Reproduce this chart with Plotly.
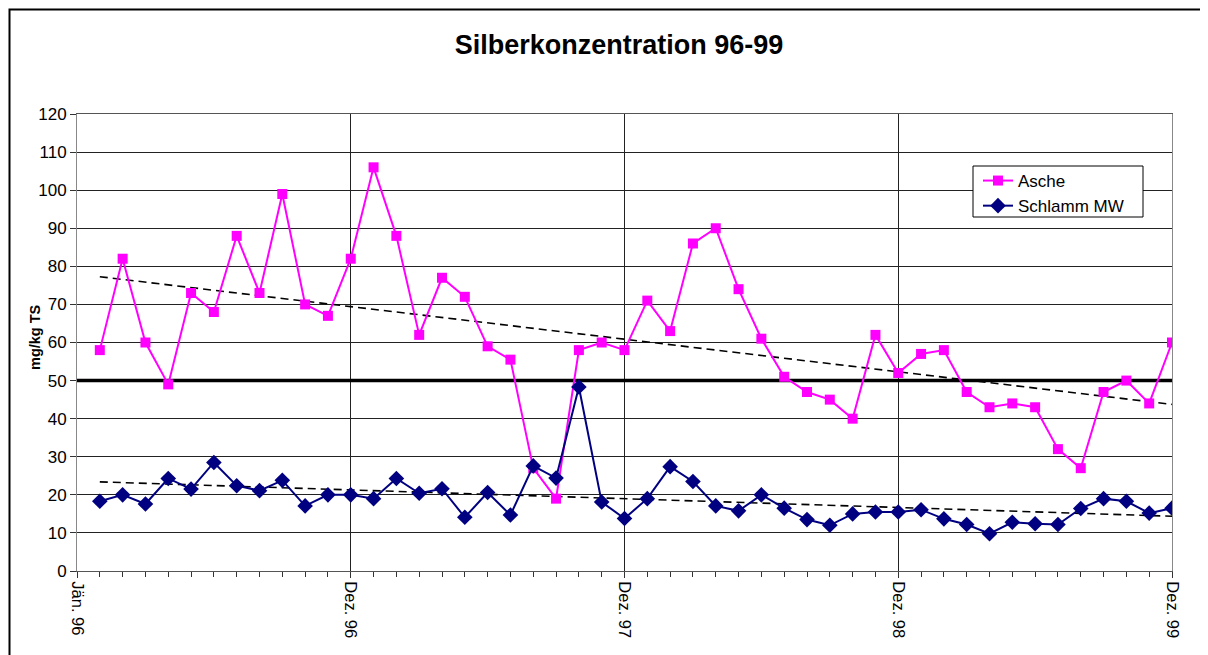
import numpy as np
import plotly.graph_objects as go

# month positions (1 = Jän. 96 ... 48 = Dez. 99)
months = list(range(1, 49))
asche = [58, 82, 60, 49, 73, 68, 88, 73, 99, 70, 67, 82,
         106, 88, 62, 77, 72, 59, 55.5, 27, 19, 58, 60, 58,
         71, 63, 86, 90, 74, 61, 51, 47, 45, 40, 62, 52,
         57, 58, 47, 43, 44, 43, 32, 27, 47, 50, 44, 60]
schlamm = [18.3, 20, 17.6, 24.3, 21.5, 28.5, 22.4, 21.1, 23.8, 17.1, 20, 20,
           19.0, 24.3, 20.4, 21.6, 14.1, 20.6, 14.7, 27.6, 24.4, 48.3, 18.1, 13.8,
           19.0, 27.4, 23.5, 17.1, 15.8, 20, 16.5, 13.5, 12.0, 15.0, 15.5, 15.5,
           16.1, 13.7, 12.2, 9.8, 12.8, 12.4, 12.2, 16.4, 19.0, 18.3, 15.2, 16.5]
tick_pos = [0, 12, 24, 36, 48]
tick_text = ["Jän. 96", "Dez. 96", "Dez. 97", "Dez. 98", "Dez. 99"]
limit_value = 50

FONT = "Liberation Sans, Arial, sans-serif"
PW, PH = 1095, 457  # plot area size in px


def px_x(page_x):
    return (page_x - 77) / PW


def px_y(page_y):
    return (571 - page_y) / PH


x = np.array(months, dtype=float)
trend_a = np.polyval(np.polyfit(x, asche, 1), x)
trend_s = np.polyval(np.polyfit(x, schlamm, 1), x)

fig = go.Figure()
fig.add_trace(go.Scatter(x=[0, 48], y=[limit_value, limit_value], mode="lines",
                         line=dict(color="black", width=3.5), showlegend=False,
                         hoverinfo="skip"))
fig.add_trace(go.Scatter(x=months, y=trend_a, mode="lines",
                         line=dict(color="black", width=1.6, dash="8px,5px"),
                         showlegend=False, hoverinfo="skip"))
fig.add_trace(go.Scatter(x=months, y=trend_s, mode="lines",
                         line=dict(color="black", width=1.6, dash="8px,5px"),
                         showlegend=False, hoverinfo="skip"))
fig.add_trace(go.Scatter(x=months, y=asche, mode="lines+markers", name="Asche",
                         line=dict(color="#FF00FF", width=2),
                         marker=dict(symbol="square", size=10, color="#FF00FF")))
fig.add_trace(go.Scatter(x=months, y=schlamm, mode="lines+markers", name="Schlamm MW",
                         line=dict(color="#000080", width=2),
                         marker=dict(symbol="diamond", size=12, color="#000080")))

fig.update_layout(
    width=1200, height=647,
    margin=dict(l=69, r=36, t=106, b=84),
    paper_bgcolor="white", plot_bgcolor="white",
    font=dict(family=FONT, size=17, color="black"),
    title=dict(text="<b>Silberkonzentration 96-99</b>", x=611 / 1200,
               xanchor="center", y=1 - 37 / 647, yanchor="middle",
               font=dict(size=27, family=FONT)),
    legend=dict(x=px_x(978), y=px_y(163), xanchor="left", yanchor="top",
                borderwidth=0, bgcolor="rgba(0,0,0,0)",
                font=dict(size=17, family=FONT), tracegroupgap=0,
                itemwidth=30),
    showlegend=True,
)
fig.update_xaxes(range=[0, 48], tickmode="array", tickvals=tick_pos, ticktext=tick_text,
                 tickangle=90, ticks="outside", ticklen=6, tickcolor="#333",
                 showgrid=True, gridcolor="#222", gridwidth=1,
                 showline=True, linecolor="#555", linewidth=1, mirror=True,
                 zeroline=False, tickfont=dict(size=16.5, family=FONT),
                 minor=dict(tickmode="linear", tick0=0, dtick=1, ticks="outside",
                            ticklen=5, tickcolor="#333", showgrid=False))
fig.update_yaxes(range=[0, 120], dtick=10, ticks="outside", ticklen=6, tickcolor="#333",
                 showgrid=True, gridcolor="#222", gridwidth=1,
                 showline=True, linecolor="#888", linewidth=1, mirror=True,
                 zeroline=False, tickfont=dict(size=17, family=FONT))
# y-axis title placed like the original
fig.add_annotation(text="<b>mg/kg TS</b>", xref="paper", yref="paper",
                   x=px_x(35), y=px_y(337), xanchor="center", yanchor="middle",
                   textangle=-90, showarrow=False,
                   font=dict(size=14.5, family=FONT, color="black"))
# legend box
fig.add_shape(type="rect", xref="paper", yref="paper",
              x0=px_x(973), x1=px_x(1143), y0=px_y(217), y1=px_y(166),
              line=dict(color="black", width=1), fillcolor="white", layer="above")
# outer chart frame
fig.add_shape(type="rect", xref="paper", yref="paper",
              x0=px_x(9.5), x1=1.05, y0=-0.3, y1=px_y(9.5),
              line=dict(color="black", width=2), layer="below")
fig.write_html("out.html")
